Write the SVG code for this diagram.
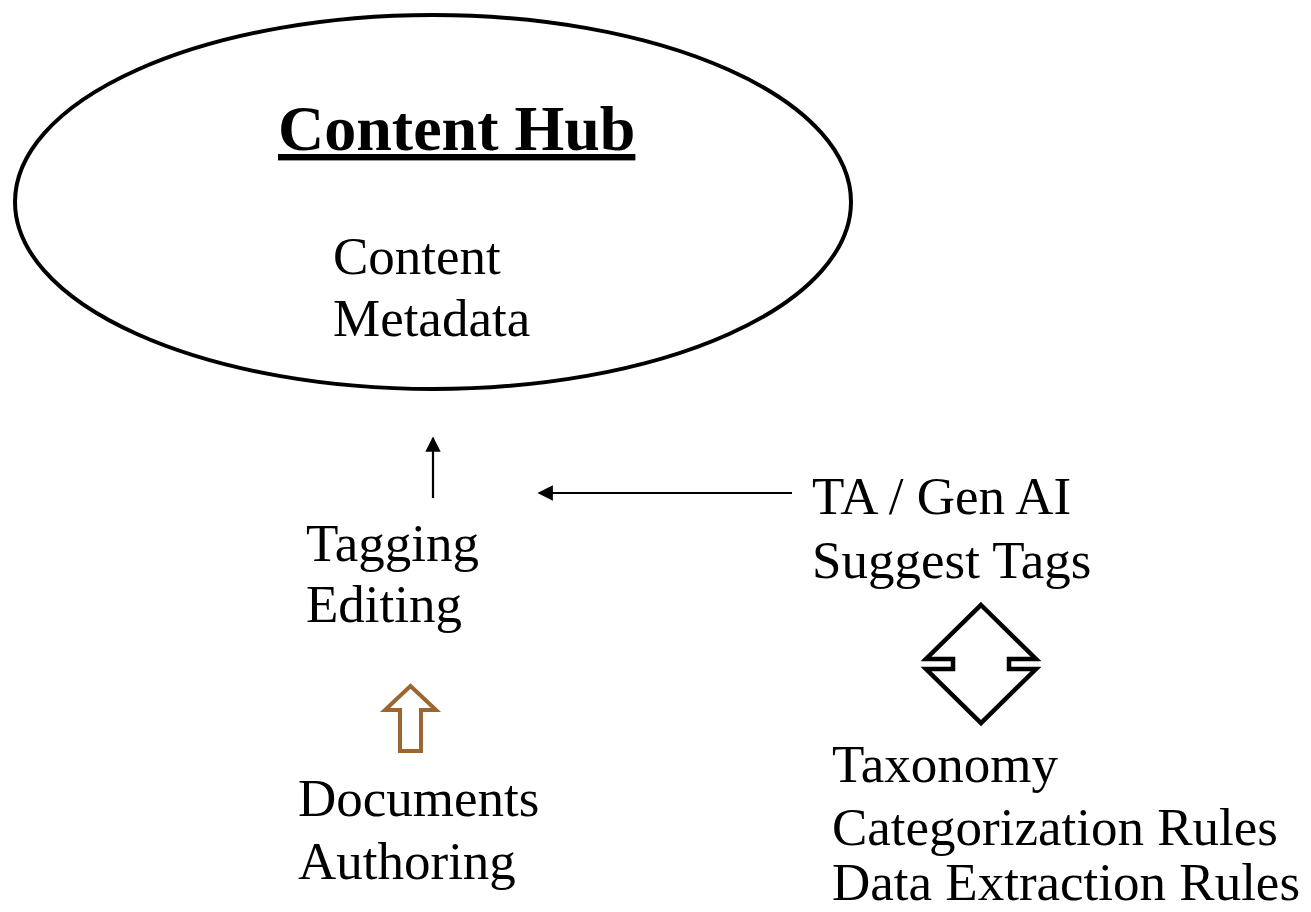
<svg xmlns="http://www.w3.org/2000/svg" width="1311" height="912" viewBox="0 0 1311 912">
<defs>
<style>
text{font-family:"Liberation Serif","Times New Roman",serif;font-size:53px;fill:#000}
.title{font-size:64px;font-weight:bold;text-decoration:underline}
.conn{stroke:#000;stroke-width:2.2;fill:none}
</style>
<marker id="ah" viewBox="0 0 10 10" refX="9" refY="5" markerWidth="7" markerHeight="7" markerUnits="strokeWidth" orient="auto">
<path d="M0,0 L10,5 L0,10 z" fill="#000"/>
</marker>
</defs>
<rect width="1311" height="912" fill="#fff"/>
<g id="content-hub">
<ellipse cx="433" cy="202" rx="418" ry="187" fill="none" stroke="#000" stroke-width="4"/>
<text class="title" x="278" y="150">Content Hub</text>
<text x="333" y="274">Content</text>
<text x="333" y="336">Metadata</text>
</g>
<g id="tagging">
<text x="306" y="561">Tagging</text>
<text x="306" y="622">Editing</text>
</g>
<g id="ta-genai">
<text x="812" y="514">TA / Gen AI</text>
<text x="812" y="578">Suggest Tags</text>
</g>
<g id="documents">
<text x="298" y="816">Documents</text>
<text x="298" y="879">Authoring</text>
</g>
<g id="taxonomy">
<text x="832" y="782">Taxonomy</text>
<text x="832" y="845">Categorization Rules</text>
<text x="832" y="900">Data Extraction Rules</text>
</g>
<g id="connectors">
<line class="conn" x1="433" y1="498" x2="433" y2="438" marker-end="url(#ah)"/>
<line class="conn" x1="792" y1="493" x2="539" y2="493" marker-end="url(#ah)"/>
<path d="M410.5,686 L436,710 L421,710 L421,751 L400,751 L400,710 L385,710 Z" fill="none" stroke="#9a6631" stroke-width="4"/>
<path d="M981,605 L1036,659 L1009,659 L1009,669 L1036,669 L981,723 L926,669 L953,669 L953,659 L926,659 Z" fill="none" stroke="#000" stroke-width="4.5"/>
</g>
</svg>
